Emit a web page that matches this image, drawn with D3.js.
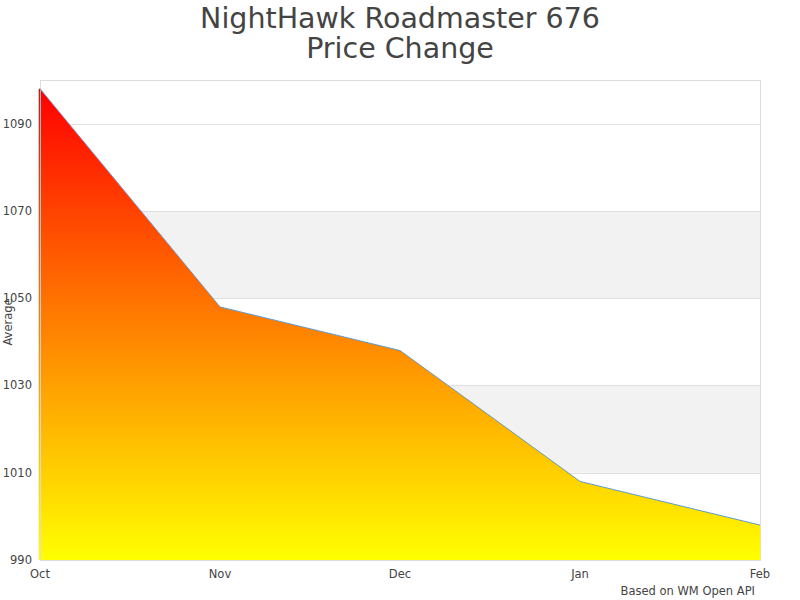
<!DOCTYPE html>
<html>
<head>
<meta charset="utf-8">
<script src="https://cdn.jsdelivr.net/npm/d3@7"></script>
<style>
  body { margin: 0; background: #fff; }
  svg text { font-family: "DejaVu Sans", sans-serif; fill: #444; }
</style>
</head>
<body>
<div id="chart"></div>
<script>
const months = ["Oct", "Nov", "Dec", "Jan", "Feb"];
const averages = [1098, 1048, 1038, 1008, 998];
const yTicks = [990, 1010, 1030, 1050, 1070, 1090];
const bands = [[1010, 1030], [1050, 1070]];

const width = 800, height = 600;
const margin = { top: 80, right: 40, bottom: 40, left: 40 };
const innerW = width - margin.left - margin.right;
const innerH = height - margin.top - margin.bottom;

const svg = d3.select("#chart").append("svg")
    .attr("width", width)
    .attr("height", height);

// title
svg.append("text")
    .attr("x", width / 2).attr("y", 28)
    .attr("text-anchor", "middle")
    .style("font-size", "28.5px")
    .text("NightHawk Roadmaster 676");
svg.append("text")
    .attr("x", width / 2).attr("y", 58)
    .attr("text-anchor", "middle")
    .style("font-size", "28.5px")
    .text("Price Change");

const x = d3.scalePoint().domain(months).range([0, innerW]);
const y = d3.scaleLinear().domain([990, 1100]).range([innerH, 0]);

const g = svg.append("g").attr("transform", `translate(${margin.left},${margin.top})`);

// alternate bands
g.selectAll("rect.band")
    .data(bands)
    .enter().append("rect")
    .attr("class", "band")
    .attr("x", 0).attr("width", innerW)
    .attr("y", d => y(d[1]))
    .attr("height", d => y(d[0]) - y(d[1]))
    .style("fill", "#f2f2f2");

// grid lines
g.selectAll("line.grid")
    .data(yTicks.slice(1))
    .enter().append("line")
    .attr("x1", 0).attr("x2", innerW)
    .attr("y1", d => Math.round(y(d)) + 0.5)
    .attr("y2", d => Math.round(y(d)) + 0.5)
    .style("stroke", "#e0e0e0");

// gradient red -> yellow
const defs = svg.append("defs");
const grad = defs.append("linearGradient")
    .attr("id", "fillGrad")
    .attr("gradientUnits", "userSpaceOnUse")
    .attr("x1", 0).attr("x2", 0)
    .attr("y1", y(d3.max(averages))).attr("y2", innerH);
grad.append("stop").attr("offset", "0%").attr("stop-color", "#ff0000");
grad.append("stop").attr("offset", "100%").attr("stop-color", "#ffff00");

const data = months.map((m, i) => ({ month: m, value: averages[i] }));

const area = d3.area()
    .x(d => x(d.month))
    .y0(innerH)
    .y1(d => y(d.value));

g.append("path")
    .datum(data)
    .attr("d", area)
    .style("fill", "url(#fillGrad)");

// plot border
g.append("rect")
    .attr("x", 0.5).attr("y", 0.5)
    .attr("width", innerW).attr("height", innerH)
    .style("fill", "none")
    .style("stroke", "#dddddd");

// left edge of the area
g.append("line")
    .attr("x1", -0.5).attr("x2", -0.5)
    .attr("y1", y(averages[0])).attr("y2", innerH)
    .style("stroke", "url(#fillGrad)")
    .style("stroke-width", 1.5);

const line = d3.line()
    .x(d => x(d.month))
    .y(d => y(d.value));

g.append("path")
    .datum(data)
    .attr("d", line)
    .style("fill", "none")
    .style("stroke", "#5b9bd5")
    .style("stroke-width", 1);

// y labels
g.selectAll("text.ylab")
    .data(yTicks)
    .enter().append("text")
    .attr("x", -8)
    .attr("y", d => y(d))
    .attr("dy", "0.35em")
    .attr("text-anchor", "end")
    .style("font-size", "11.5px")
    .text(d => d);

// x labels
g.selectAll("text.xlab")
    .data(months)
    .enter().append("text")
    .attr("x", d => x(d))
    .attr("y", innerH + 18)
    .attr("text-anchor", "middle")
    .style("font-size", "11.5px")
    .text(d => d);

// axis title
svg.append("text")
    .attr("text-anchor", "middle")
    .attr("transform", "translate(12,322) rotate(-90)")
    .style("font-size", "11.5px")
    .text("Average");

// footer
svg.append("text")
    .attr("x", 755).attr("y", 595)
    .attr("text-anchor", "end")
    .style("font-size", "11.5px")
    .text("Based on WM Open API");
</script>
</body>
</html>
